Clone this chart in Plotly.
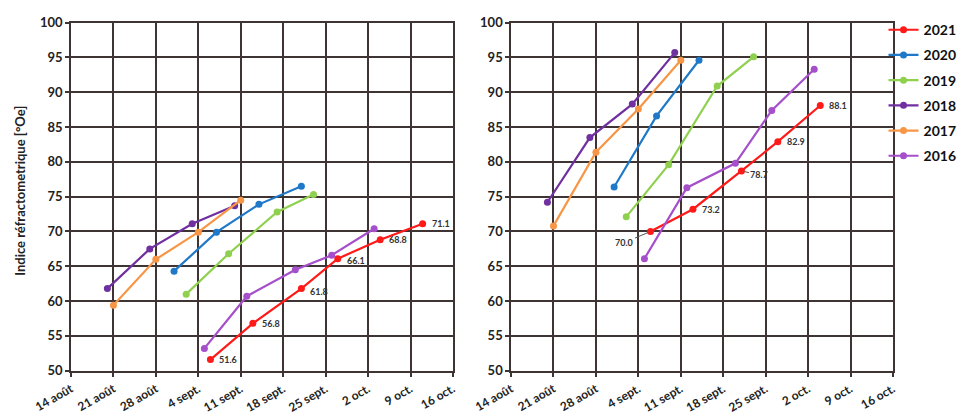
import plotly.graph_objects as go

# ---------------- data ----------------
years = ["2021", "2020", "2019", "2018", "2017", "2016"]
colors = {"2021": "#FF1A1A", "2020": "#1F78C8", "2019": "#8FD14F",
          "2018": "#7030A0", "2017": "#F79646", "2016": "#A64FCB"}

# left panel
left_dates = {
    "2021": ["2021-09-06", "2021-09-13", "2021-09-21", "2021-09-27", "2021-10-04", "2021-10-11"],
    "2020": ["2021-08-31", "2021-09-07", "2021-09-14", "2021-09-21"],
    "2019": ["2021-09-02", "2021-09-09", "2021-09-17", "2021-09-23"],
    "2018": ["2021-08-20", "2021-08-27", "2021-09-03", "2021-09-10"],
    "2017": ["2021-08-21", "2021-08-28", "2021-09-04", "2021-09-11"],
    "2016": ["2021-09-05", "2021-09-12", "2021-09-20", "2021-09-26", "2021-10-03"],
}
left_values = {
    "2021": [51.6, 56.8, 61.8, 66.1, 68.8, 71.1],
    "2020": [64.3, 69.9, 73.9, 76.5],
    "2019": [61.0, 66.8, 72.8, 75.3],
    "2018": [61.8, 67.5, 71.1, 73.7],
    "2017": [59.4, 66.0, 69.9, 74.5],
    "2016": [53.2, 60.7, 64.5, 66.6, 70.4],
}

# right panel
right_dates = {
    "2021": ["2021-09-06", "2021-09-13", "2021-09-21", "2021-09-27", "2021-10-04"],
    "2020": ["2021-08-31", "2021-09-07", "2021-09-14"],
    "2019": ["2021-09-02", "2021-09-09", "2021-09-17", "2021-09-23"],
    "2018": ["2021-08-20", "2021-08-27", "2021-09-03", "2021-09-10"],
    "2017": ["2021-08-21", "2021-08-28", "2021-09-04", "2021-09-11"],
    "2016": ["2021-09-05", "2021-09-12", "2021-09-20", "2021-09-26", "2021-10-03"],
}
right_values = {
    "2021": [70.0, 73.2, 78.7, 82.9, 88.1],
    "2020": [76.4, 86.6, 94.6],
    "2019": [72.1, 79.6, 90.9, 95.1],
    "2018": [74.2, 83.5, 88.3, 95.7],
    "2017": [70.8, 81.4, 87.6, 94.6],
    "2016": [66.1, 76.3, 79.8, 87.4, 93.3],
}

tick_dates = ["2021-08-14", "2021-08-21", "2021-08-28", "2021-09-04", "2021-09-11",
              "2021-09-18", "2021-09-25", "2021-10-02", "2021-10-09", "2021-10-16"]
tick_labels = ["14 août", "21 août", "28 août", "4 sept.", "11 sept.",
               "18 sept.", "25 sept.", "2 oct.", "9 oct.", "16 oct."]
y_ticks = [50, 55, 60, 65, 70, 75, 80, 85, 90, 95, 100]
y_title = "Indice réfractometrique [°Oe]"

# label offsets (style) for the 2021 series
left_label_shift = [(18, 0), (18, 0), (18, -3), (18, -2), (18, 0), (18, 0)]
right_label_shift = [(-26, -11, True), (18, 0, False), (18, -4, True), (18, 0, False), (18, 0, False)]

# ---------------- figure ----------------
FONT = "Lato"
GRID = "#3f3434"
fig = go.Figure()

for y in years:
    fig.add_trace(go.Scatter(
        x=left_dates[y], y=left_values[y], mode="lines+markers", name=y,
        legendgroup=y, line=dict(color=colors[y], width=2.2),
        marker=dict(color=colors[y], size=7), xaxis="x", yaxis="y"))
for y in years:
    fig.add_trace(go.Scatter(
        x=right_dates[y], y=right_values[y], mode="lines+markers", name=y,
        legendgroup=y, showlegend=False, line=dict(color=colors[y], width=2.2),
        marker=dict(color=colors[y], size=7), xaxis="x2", yaxis="y2"))

lab_font = dict(family=FONT, size=9, color="#333333", weight="bold")
annotations = []
for d, v, (dx, dy) in zip(left_dates["2021"], left_values["2021"], left_label_shift):
    annotations.append(dict(x=d, y=v, xref="x", yref="y", text=f"{v:.1f}",
                            showarrow=False, xshift=dx, yshift=dy, font=lab_font))
for d, v, (dx, dy, lead) in zip(right_dates["2021"], right_values["2021"], right_label_shift):
    if lead:
        annotations.append(dict(x=d, y=v, xref="x2", yref="y2", text=f"{v:.1f}",
                                showarrow=True, arrowhead=0, arrowwidth=1,
                                arrowcolor="#555555", ax=dx, ay=-dy, standoff=3,
                                font=lab_font))
    else:
        annotations.append(dict(x=d, y=v, xref="x2", yref="y2", text=f"{v:.1f}",
                                showarrow=False, xshift=dx, yshift=dy, font=lab_font))

# y-axis title
annotations.append(dict(x=0.0125, y=0.553, xref="paper", yref="paper", text=y_title,
                        textangle=-90, showarrow=False, xanchor="center", yanchor="middle",
                        font=dict(family=FONT, size=13, color="#222222", weight="bold")))

xcommon = dict(type="date", range=[tick_dates[0], tick_dates[-1]],
               tickmode="array", tickvals=tick_dates, ticktext=tick_labels,
               tickangle=-30, showgrid=True, gridcolor=GRID, gridwidth=1.5,
               showline=True, linecolor=GRID, linewidth=1.5, mirror=True,
               ticks="outside", ticklen=5, tickcolor=GRID, tickwidth=1.5,
               zeroline=False, automargin=False,
               tickfont=dict(family=FONT, size=12, color="#222222", weight="bold"))
ycommon = dict(range=[50, 100], tickmode="array", tickvals=y_ticks,
               showgrid=True, gridcolor=GRID, gridwidth=1.5,
               showline=True, linecolor=GRID, linewidth=1.5, mirror=True,
               ticks="outside", ticklen=4, tickcolor=GRID, tickwidth=1.5,
               zeroline=False, automargin=False,
               tickfont=dict(family=FONT, size=13, color="#222222", weight="bold"))

# the page body has an 8px margin; size the figure so it fits the 968x417 window
fig.update_layout(
    width=960, height=409,
    margin=dict(l=0, r=0, t=0, b=0, autoexpand=False),
    paper_bgcolor="white", plot_bgcolor="white",
    xaxis=dict(domain=[0.0656, 0.4635], anchor="y", **xcommon),
    yaxis=dict(domain=[0.1132, 0.9641], anchor="x", **ycommon),
    xaxis2=dict(domain=[0.5240, 0.9219], anchor="y2", **xcommon),
    yaxis2=dict(domain=[0.1132, 0.9641], anchor="x2", **ycommon),
    legend=dict(x=0.912, y=0.985, xanchor="left", yanchor="top",
                bgcolor="rgba(0,0,0,0)", itemwidth=30,
                traceorder="grouped", tracegroupgap=4,
                font=dict(family=FONT, size=14, color="#111111", weight="bold")),
    annotations=annotations,
    showlegend=True,
)

fig.write_html("out.html")
